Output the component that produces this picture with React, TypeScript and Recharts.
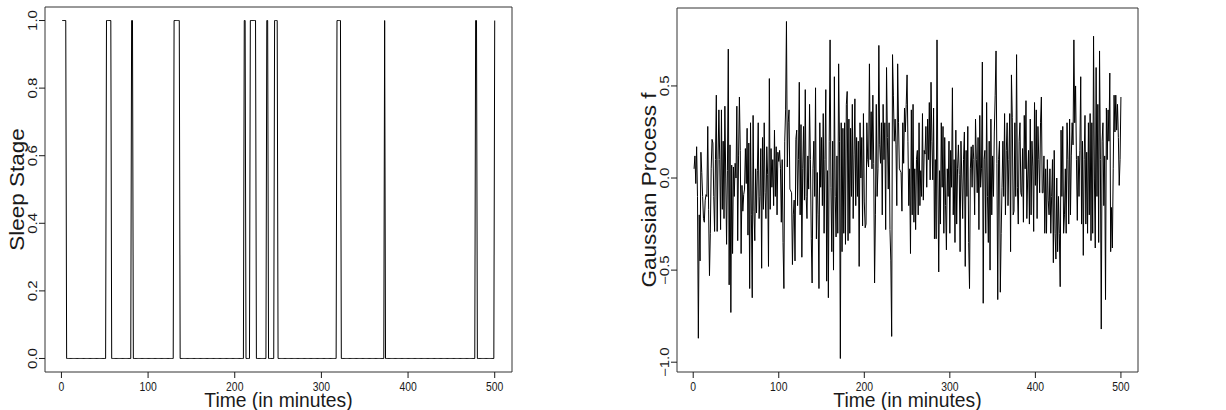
import { Label, Line, LineChart, ReferenceArea, XAxis, YAxis } from "recharts";

// minutes where the sleep stage is 1 (inclusive runs)
const sleepStarts = [1, 52, 81, 130, 211, 218, 237, 246, 318, 373, 478, 500];
const sleepEnds = [5, 57, 82, 136, 212, 224, 238, 249, 322, 373, 479, 500];

// Gaussian process f, one value per minute (1..500)
const gpValues = [
  0.05, 0.12, -0.03, 0.17, -0.1, -0.87, -0.2, -0.45, 0.14, 0.03, -0.1, -0.22, -0.24, -0.12, -0.09, -0.1, 0.28, -0.17, -0.53, -0.3,
  0.05, 0.21, 0.19, -0.1, -0.29, 0.1, 0.45, -0.29, 0.1, 0.37, 0.1, -0.28, 0.37, -0.17, 0.2, -0.22, 0.39, 0.0, -0.36, 0.04,
  0.7, -0.58, 0.18, -0.73, 0.07, -0.41, 0.06, -0.1, 0.08, 0.0, 0.39, -0.34, 0.12, 0.44, 0.15, -0.41, -0.04, -0.18, -0.09, -0.06,
  0.16, -0.03, 0.27, -0.31, 0.19, -0.6, 0.3, -0.2, -0.65, 0.34, -0.18, -0.34, 0.05, -0.19, 0.04, 0.3, -0.22, -0.1, 0.16, -0.49,
  0.22, -0.17, 0.3, -0.08, -0.22, 0.17, 0.02, -0.48, 0.54, -0.17, 0.16, -0.05, 0.1, -0.15, 0.26, -0.1, 0.17, -0.2, 0.14, 0.09,
  0.15, 0.05, -0.24, 0.1, -0.35, -0.6, 0.2, 0.37, 0.85, 0.06, 0.3, 0.37, -0.06, -0.07, -0.08, -0.47, -0.2, -0.12, -0.45, 0.21,
  0.26, -0.15, 0.1, 0.52, -0.2, 0.29, -0.43, 0.05, 0.28, -0.12, 0.48, -0.1, -0.22, 0.12, -0.06, 0.4, 0.1, -0.33, -0.57, 0.05,
  0.2, -0.1, 0.49, -0.33, 0.03, -0.2, -0.6, 0.3, -0.05, 0.22, -0.15, 0.35, -0.3, 0.1, 0.48, -0.56, 0.04, -0.65, 0.2, 0.75,
  -0.05, -0.4, 0.2, -0.5, 0.55, -0.1, -0.32, 0.12, -0.3, 0.62, 0.2, -0.98, 0.3, -0.4, 0.27, -0.3, 0.3, -0.36, 0.4, 0.47,
  -0.34, 0.32, -0.3, 0.27, -0.1, 0.4, -0.22, 0.13, 0.43, -0.15, 0.22, -0.1, 0.2, -0.48, 0.3, 0.0, 0.22, -0.26, 0.35, -0.13,
  -0.27, -0.25, 0.3, 0.1, 0.06, 0.62, 0.1, 0.36, 0.05, 0.45, 0.08, -0.57, -0.2, 0.4, -0.1, 0.05, 0.72, 0.18, 0.08, 0.3,
  -0.2, 0.4, 0.1, 0.3, -0.28, 0.6, 0.22, -0.06, 0.3, -0.28, -0.45, -0.86, 0.67, 0.45, 0.2, 0.32, 0.18, -0.15, 0.62, 0.3,
  0.05, 0.04, 0.03, -0.18, 0.3, 0.08, 0.38, 0.25, 0.4, 0.56, 0.2, -0.15, 0.05, -0.41, 0.37, -0.2, 0.4, -0.24, 0.05, -0.28,
  0.1, 0.15, -0.2, 0.3, -0.15, 0.04, -0.1, 0.35, -0.12, 0.15, 0.13, 0.28, -0.05, 0.32, 0.1, 0.41, -0.01, 0.52, 0.2, -0.01,
  0.38, -0.33, 0.1, -0.33, 0.75, 0.0, -0.51, 0.04, -0.25, 0.3, -0.05, 0.28, -0.3, 0.22, -0.15, -0.39, 0.05, -0.1, 0.2, -0.3,
  0.15, -0.05, 0.49, -0.2, 0.1, -0.35, 0.26, -0.25, 0.05, 0.18, 0.02, -0.4, 0.2, 0.0, -0.22, 0.1, 0.25, -0.48, 0.15, -0.1,
  0.28, -0.35, -0.6, 0.05, 0.17, -0.05, 0.18, 0.1, -0.2, 0.32, 0.1, -0.08, 0.22, -0.28, 0.34, -0.05, 0.05, 0.63, -0.68, 0.1,
  0.15, -0.3, 0.41, -0.1, -0.35, 0.2, -0.5, 0.32, -0.2, 0.12, -0.1, 0.25, 0.45, 0.69, 0.08, -0.66, 0.1, 0.2, -0.62, -0.3,
  -0.05, 0.2, -0.1, 0.35, -0.2, 0.15, 0.3, -0.15, 0.1, 0.35, -0.4, 0.56, 0.33, -0.2, -0.18, 0.3, -0.1, 0.67, -0.05, -0.25,
  0.2, 0.3, -0.08, -0.1, 0.16, -0.24, 0.34, 0.05, 0.42, -0.22, 0.0, 0.15, -0.25, 0.32, -0.2, 0.2, 0.06, -0.29, 0.41, -0.04,
  0.37, -0.22, 0.28, 0.1, -0.08, 0.3, 0.44, -0.08, -0.08, 0.12, -0.3, 0.05, -0.3, 0.1, -0.12, -0.2, 0.05, -0.3, -0.1, 0.1,
  -0.46, 0.15, -0.3, -0.44, 0.0, -0.4, -0.1, -0.3, -0.59, 0.26, -0.1, 0.28, -0.3, -0.2, 0.05, -0.3, 0.3, 0.1, -0.25, 0.32,
  -0.2, 0.12, 0.3, 0.18, 0.75, 0.3, 0.5, 0.1, -0.23, 0.12, -0.1, 0.15, 0.55, -0.25, 0.2, -0.42, 0.1, 0.34, -0.25, 0.14,
  -0.3, 0.3, -0.2, 0.35, -0.34, 0.3, -0.3, 0.77, 0.0, -0.38, 0.6, -0.1, 0.4, -0.35, 0.69, 0.1, -0.82, 0.2, 0.3, -0.15,
  0.12, -0.66, 0.38, 0.1, 0.37, 0.2, 0.57, -0.4, -0.16, -0.38, 0.05, 0.45, 0.25, 0.45, 0.26, 0.4, 0.22, -0.04, 0.1, 0.44,
];

const timeTicks = [0, 100, 200, 300, 400, 500];
const sleepTicks = [0, 0.2, 0.4, 0.6, 0.8, 1.0];
const gpTicks = [-1.0, -0.5, 0.0, 0.5];

const FONT = "'Liberation Sans', Arial, Helvetica, sans-serif";
const INK = "#1a1a1a";

const minutes = gpValues.map((_, i) => i + 1);

const sleepData = minutes.map((t) => ({
  t,
  v: sleepStarts.some((s, i) => t >= s && t <= sleepEnds[i]) ? 1 : 0,
}));
const gpData = minutes.map((t, i) => ({ t, v: gpValues[i] }));

// R style range: data extent padded 4% on each side
function pad(vals: number[]): [number, number] {
  const lo = Math.min(...vals);
  const hi = Math.max(...vals);
  const d = (hi - lo) * 0.04;
  return [lo - d, hi + d];
}

const fmt = (v: number) => (v < 0 ? "\u2212" + Math.abs(v).toFixed(1) : v.toFixed(1));

function XTick(props: any) {
  const { x, y, payload } = props;
  return (
    <g transform={`translate(${x},${y})`}>
      <line x1={0} x2={0} y1={0} y2={6} stroke={INK} />
      <text transform="translate(0,18.5) scale(0.8,1)" textAnchor="middle" fontSize={13} fontFamily={FONT} fill={INK}>
        {payload.value}
      </text>
    </g>
  );
}

function YTick(props: any) {
  const { x, y, payload } = props;
  return (
    <g transform={`translate(${x},${y})`}>
      <line x1={0} x2={-6} y1={0} y2={0} stroke={INK} />
      <text transform="translate(-8,0) scale(0.8,1) rotate(-90)" textAnchor="middle" fontSize={15} fontFamily={FONT} fill={INK}>
        {fmt(payload.value)}
      </text>
    </g>
  );
}

const xTitle = (props: any) => {
  const vb = props.viewBox;
  return (
    <text
      transform={`translate(${vb.x + vb.width / 2},${vb.y + 35}) scale(0.92,1)`}
      textAnchor="middle"
      fontSize={21}
      fontFamily={FONT}
      fill={INK}
    >
      Time (in minutes)
    </text>
  );
};

const yTitle = (text: string) => (props: any) => {
  const vb = props.viewBox;
  return (
    <text
      transform={`translate(${vb.x + vb.width - 21},${vb.y + vb.height / 2}) scale(0.9,1) rotate(-90)`}
      textAnchor="middle"
      fontSize={22.5}
      fontFamily={FONT}
      fill={INK}
    >
      {text}
    </text>
  );
};

function Panel({
  data,
  yTicks,
  title,
  left,
  width,
  yWidth,
  top,
  right,
}: {
  data: { t: number; v: number }[];
  yTicks: number[];
  title: string;
  left: number;
  width: number;
  yWidth: number;
  top: number;
  right: number;
}) {
  const xDom = pad(data.map((d) => d.t));
  const yDom = pad(data.map((d) => d.v));
  return (
    <div style={{ position: "absolute", left, top: 0 }}>
      <LineChart width={width} height={410} data={data} margin={{ top, right, bottom: 0, left: 0 }}>
        <XAxis
          dataKey="t"
          type="number"
          domain={xDom}
          ticks={timeTicks}
          axisLine={false}
          tickLine={false}
          tickSize={0}
          tickMargin={0}
          height={38}
          tick={<XTick />}
          interval={0}
        >
          <Label content={xTitle} />
        </XAxis>
        <YAxis
          type="number"
          domain={yDom}
          ticks={yTicks}
          axisLine={false}
          tickLine={false}
          tickSize={0}
          tickMargin={0}
          width={yWidth}
          tick={<YTick />}
          interval={0}
        >
          <Label content={yTitle(title)} />
        </YAxis>
        <ReferenceArea
          x1={xDom[0]}
          x2={xDom[1]}
          y1={yDom[0]}
          y2={yDom[1]}
          fill="none"
          stroke="#333"
          strokeWidth={1}
          ifOverflow="visible"
        />
        <Line type="linear" dataKey="v" stroke="#000" strokeWidth={1} dot={false} isAnimationActive={false} />
      </LineChart>
    </div>
  );
}

export default function App() {
  return (
    <div style={{ position: "absolute", left: 0, top: 0, width: 1226, height: 410, background: "#fff" }}>
      <Panel data={sleepData} yTicks={sleepTicks} title="Sleep Stage" left={0} width={560} yWidth={45} top={7} right={48} />
      <Panel data={gpData} yTicks={gpTicks} title="Gaussian Process f" left={620} width={606} yWidth={57} top={8} right={88} />
    </div>
  );
}
